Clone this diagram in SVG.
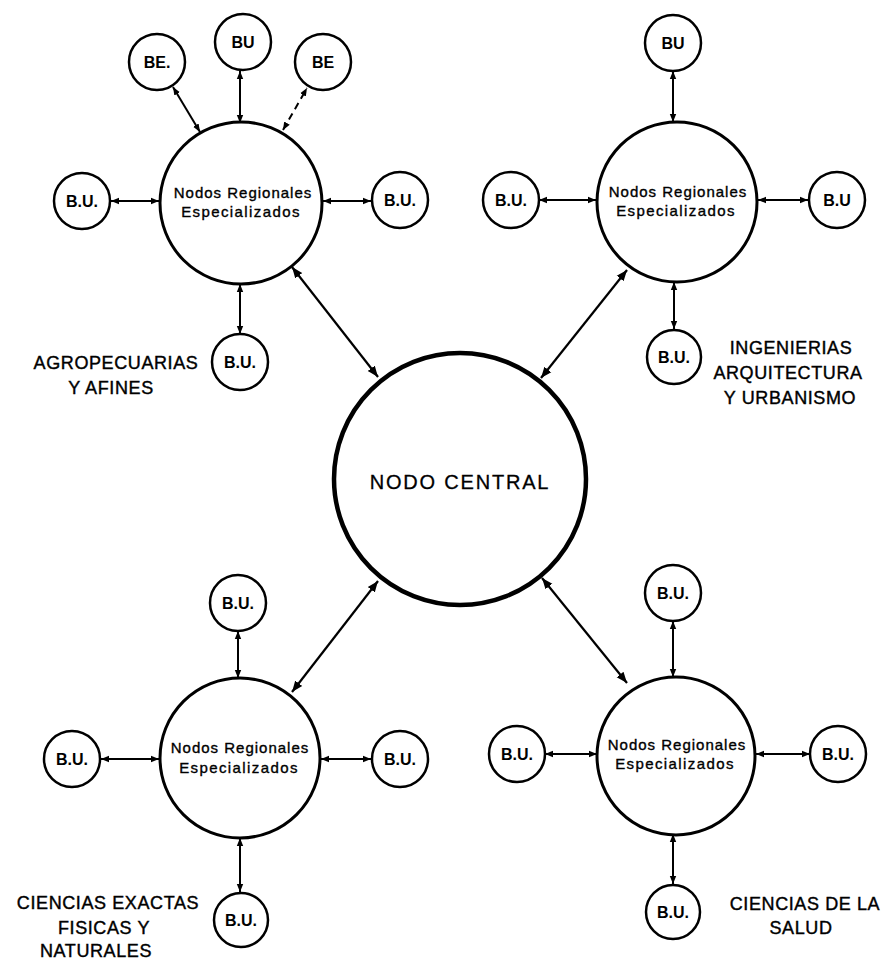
<svg xmlns="http://www.w3.org/2000/svg" width="896" height="960" viewBox="0 0 896 960">
<style>
.sat{fill:#fff;stroke:#000;stroke-width:2.5}
.reg{fill:#fff;stroke:#000;stroke-width:3}
.cen{fill:#fff;stroke:#000;stroke-width:4.5}
.st{font-family:"Liberation Sans",Arial,sans-serif;font-size:16px;font-weight:bold;text-anchor:middle;fill:#000}
.rt{font-family:"Liberation Sans",Arial,sans-serif;font-size:15px;text-anchor:middle;fill:#000;stroke:#000;stroke-width:0.35;letter-spacing:1px}
.rt2{letter-spacing:1.4px}
.ct{font-family:"Liberation Sans",Arial,sans-serif;font-size:20px;text-anchor:middle;fill:#000;stroke:#000;stroke-width:0.3;letter-spacing:1.8px}
.lb{font-family:"Liberation Sans",Arial,sans-serif;font-size:18px;text-anchor:middle;fill:#000;stroke:#000;stroke-width:0.4;letter-spacing:0.6px}
.c{stroke:#000;stroke-width:2;fill:none;marker-start:url(#ah);marker-end:url(#ah)}
.cb{stroke:#000;stroke-width:2.2;fill:none;marker-start:url(#ahb);marker-end:url(#ahb)}
.d{stroke-dasharray:7 5}
</style>
<defs>
<marker id="ah" viewBox="0 0 10 10" refX="10" refY="5" markerWidth="4" markerHeight="4" orient="auto-start-reverse" markerUnits="strokeWidth">
<path d="M0,1 L10,5 L0,9 z" fill="#000"/>
</marker>
<marker id="ahb" viewBox="0 0 10 10" refX="10" refY="5" markerWidth="5" markerHeight="5" orient="auto-start-reverse" markerUnits="strokeWidth">
<path d="M0,1 L10,5 L0,9 z" fill="#000"/>
</marker>
</defs>
<rect width="896" height="960" fill="#fff"/>

<g id="connectors">
<line class="c" x1="200" y1="132" x2="173" y2="87"/>
<line class="c" x1="240" y1="123" x2="240" y2="71"/>
<line class="c d" x1="283" y1="130" x2="307" y2="88"/>
<line class="c" x1="159" y1="201" x2="111" y2="201"/>
<line class="c" x1="323" y1="201" x2="371" y2="201"/>
<line class="c" x1="240" y1="284" x2="240" y2="334"/>
<line class="c" x1="673" y1="122" x2="673" y2="71"/>
<line class="c" x1="596" y1="200" x2="539" y2="200"/>
<line class="c" x1="758" y1="200" x2="808" y2="200"/>
<line class="c" x1="674" y1="282" x2="674" y2="329"/>
<line class="c" x1="238" y1="678" x2="238" y2="631"/>
<line class="c" x1="159" y1="759" x2="101" y2="759"/>
<line class="c" x1="321" y1="759" x2="371" y2="759"/>
<line class="c" x1="240" y1="838" x2="240" y2="892"/>
<line class="c" x1="673" y1="677" x2="673" y2="621"/>
<line class="c" x1="597" y1="754" x2="545" y2="754"/>
<line class="c" x1="756" y1="754" x2="810" y2="754"/>
<line class="c" x1="673" y1="834" x2="673" y2="884"/>
<line class="cb" x1="292" y1="267" x2="378" y2="377"/>
<line class="cb" x1="627" y1="270" x2="541" y2="378"/>
<line class="cb" x1="292" y1="692" x2="378" y2="581"/>
<line class="cb" x1="627" y1="683" x2="542" y2="578"/>
</g>

<g id="nodo-central">
<circle class="cen" cx="460" cy="479" r="126"/>
<text class="ct" x="460" y="489">NODO CENTRAL</text>
</g>

<g id="regional-agro">
<circle class="reg" cx="241" cy="203" r="81"/>
<text class="rt" x="243" y="198">Nodos Regionales</text>
<text class="rt rt2" x="241" y="217">Especializados</text>
</g>
<g id="regional-ing">
<circle class="reg" cx="677" cy="202" r="80"/>
<text class="rt" x="678" y="197">Nodos Regionales</text>
<text class="rt rt2" x="676" y="216">Especializados</text>
</g>
<g id="regional-exactas">
<circle class="reg" cx="240" cy="758" r="80"/>
<text class="rt" x="240" y="753">Nodos Regionales</text>
<text class="rt rt2" x="239" y="773">Especializados</text>
</g>
<g id="regional-salud">
<circle class="reg" cx="676" cy="756" r="79"/>
<text class="rt" x="677" y="750">Nodos Regionales</text>
<text class="rt rt2" x="675" y="769">Especializados</text>
</g>

<g id="s-tl-be1"><circle class="sat" cx="157" cy="62" r="28"/><text class="st" x="157" y="68">BE.</text></g>
<g id="s-tl-bu"><circle class="sat" cx="243" cy="42" r="28"/><text class="st" x="243" y="48">BU</text></g>
<g id="s-tl-be2"><circle class="sat" cx="323" cy="62" r="28"/><text class="st" x="323" y="68">BE</text></g>
<g id="s-tl-l"><circle class="sat" cx="82" cy="201" r="28"/><text class="st" x="82" y="207">B.U.</text></g>
<g id="s-tl-r"><circle class="sat" cx="400" cy="200" r="28"/><text class="st" x="400" y="206">B.U.</text></g>
<g id="s-tl-b"><circle class="sat" cx="240" cy="362" r="28"/><text class="st" x="240" y="368">B.U.</text></g>

<g id="s-tr-t"><circle class="sat" cx="673" cy="43" r="28"/><text class="st" x="673" y="49">BU</text></g>
<g id="s-tr-l"><circle class="sat" cx="511" cy="200" r="28"/><text class="st" x="511" y="206">B.U.</text></g>
<g id="s-tr-r"><circle class="sat" cx="837" cy="200" r="28"/><text class="st" x="837" y="206">B.U</text></g>
<g id="s-tr-b"><circle class="sat" cx="674" cy="357" r="27"/><text class="st" x="674" y="363">B.U.</text></g>

<g id="s-bl-t"><circle class="sat" cx="238" cy="603" r="28"/><text class="st" x="238" y="609">B.U.</text></g>
<g id="s-bl-l"><circle class="sat" cx="72" cy="759" r="28"/><text class="st" x="72" y="765">B.U.</text></g>
<g id="s-bl-r"><circle class="sat" cx="400" cy="759" r="28"/><text class="st" x="400" y="765">B.U.</text></g>
<g id="s-bl-b"><circle class="sat" cx="241" cy="920" r="27"/><text class="st" x="241" y="926">B.U.</text></g>

<g id="s-br-t"><circle class="sat" cx="673" cy="593" r="28"/><text class="st" x="673" y="599">B.U.</text></g>
<g id="s-br-l"><circle class="sat" cx="517" cy="754" r="28"/><text class="st" x="517" y="760">B.U.</text></g>
<g id="s-br-r"><circle class="sat" cx="838" cy="754" r="28"/><text class="st" x="838" y="760">B.U.</text></g>
<g id="s-br-b"><circle class="sat" cx="673" cy="912" r="27"/><text class="st" x="673" y="918">B.U.</text></g>

<g id="labels">
<text class="lb" x="116" y="369">AGROPECUARIAS</text>
<text class="lb" x="111" y="394">Y AFINES</text>
<text class="lb" x="791" y="354">INGENIERIAS</text>
<text class="lb" x="788" y="379">ARQUITECTURA</text>
<text class="lb" x="790" y="404">Y URBANISMO</text>
<text class="lb" x="108" y="909">CIENCIAS EXACTAS</text>
<text class="lb" x="104" y="934">FISICAS Y</text>
<text class="lb" x="96" y="957">NATURALES</text>
<text class="lb" x="805" y="910">CIENCIAS DE LA</text>
<text class="lb" x="801" y="934">SALUD</text>
</g>
</svg>
